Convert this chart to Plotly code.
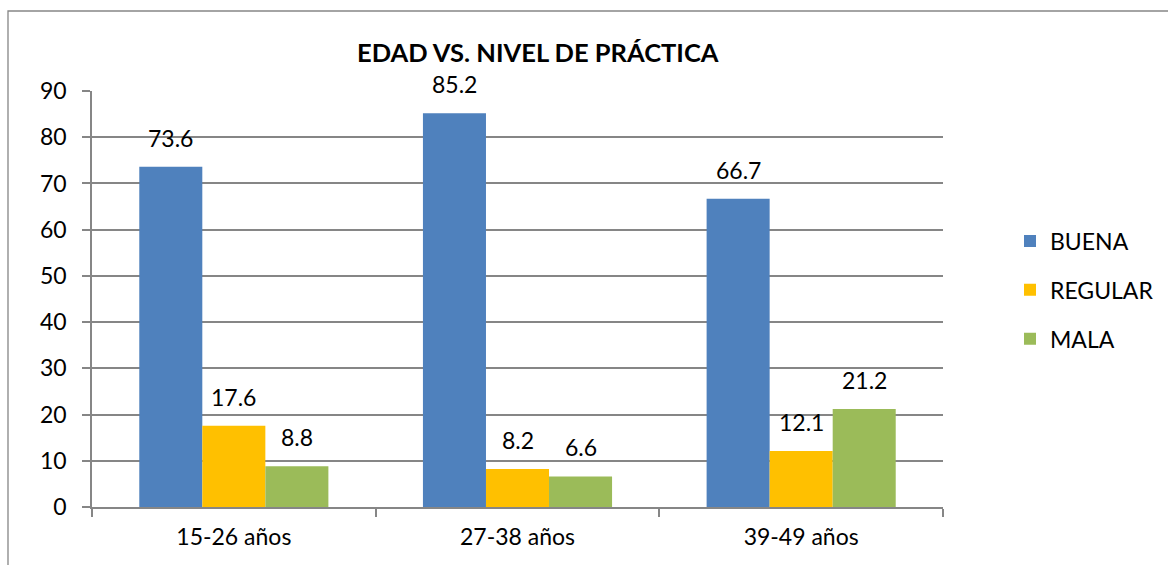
import plotly.graph_objects as go

# Age groups and practice levels (percent)
categories = ["15-26 años", "27-38 años", "39-49 años"]
series_names = ["BUENA", "REGULAR", "MALA"]
buena = [73.6, 85.2, 66.7]
regular = [17.6, 8.2, 12.1]
mala = [8.8, 6.6, 21.2]
series_values = [buena, regular, mala]
series_colors = ["#4F81BD", "#FFC000", "#9BBB59"]
y_ticks = [0, 10, 20, 30, 40, 50, 60, 70, 80, 90]

FONT = "Lato, Carlito, Calibri, sans-serif"
W, H = 1168, 565
ML, MR, MT, MB = 92, 225, 91, 58
PW = W - ML - MR
PH = H - MT - MB
BAR_PX = PW / len(categories) * (2 / 3) / len(series_names)

fig = go.Figure()
for name, vals, color in zip(series_names, series_values, series_colors):
    fig.add_trace(go.Bar(
        name=name, x=categories, y=vals, marker=dict(color=color, line=dict(width=0)),
        legendgroup=name,
    ))

# value labels above each bar
annotations = []
for i, (name, vals) in enumerate(zip(series_names, series_values)):
    shift = (i - (len(series_names) - 1) / 2) * BAR_PX
    for cat, v in zip(categories, vals):
        annotations.append(dict(
            x=cat, y=v, xref="x", yref="y", text=f"{v:.1f}", showarrow=False,
            xshift=shift, yshift=13, yanchor="bottom",
            font=dict(family=FONT, size=23, color="#000000"),
        ))

# chart title
annotations.append(dict(
    x=(538 - ML) / PW, y=(H - MB - 52) / PH, xref="paper", yref="paper",
    text="<b>EDAD VS. NIVEL DE PRÁCTICA</b>", showarrow=False,
    xanchor="center", yanchor="middle",
    font=dict(family=FONT, size=25.5, color="#000000"),
))

# outer chart frame
shapes = [dict(
    type="rect", xref="paper", yref="paper",
    x0=(8 - ML) / PW, x1=(W + 20 - ML) / PW,
    y0=-(MB + 20) / PH, y1=(H - MB - 11) / PH,
    line=dict(color="#868686", width=1.3), fillcolor="rgba(0,0,0,0)", layer="below",
)]

fig.update_layout(
    width=W, height=H,
    margin=dict(l=ML, r=MR, t=MT, b=MB, autoexpand=False),
    paper_bgcolor="white", plot_bgcolor="white",
    barmode="group", bargap=1 / 3, bargroupgap=0,
    font=dict(family=FONT, size=23, color="#000000"),
    showlegend=True,
    legend=dict(
        x=(1010 - ML) / PW, y=(H - MB - 290) / PH, xanchor="left", yanchor="middle",
        font=dict(family=FONT, size=23, color="#000000"),
        traceorder="grouped", tracegroupgap=16, bgcolor="rgba(0,0,0,0)",
    ),
    annotations=annotations,
    shapes=shapes,
)
fig.update_xaxes(
    type="category", showline=True, linecolor="#868686", linewidth=1.5,
    ticks="outside", tickson="boundaries", ticklen=8, tickcolor="#868686", tickwidth=1.5,
    showgrid=False, ticklabelstandoff=9,
    tickfont=dict(family=FONT, size=23, color="#000000"),
)
fig.update_yaxes(
    range=[0, 90], tickvals=y_ticks, showline=True, linecolor="#868686", linewidth=1.5,
    ticks="outside", ticklen=8, tickcolor="#868686", tickwidth=1.5,
    showgrid=True, gridcolor="#868686", gridwidth=1.5, zeroline=False,
    ticklabelstandoff=11,
    tickfont=dict(family=FONT, size=23, color="#000000"),
)

fig.write_html("out.html")
